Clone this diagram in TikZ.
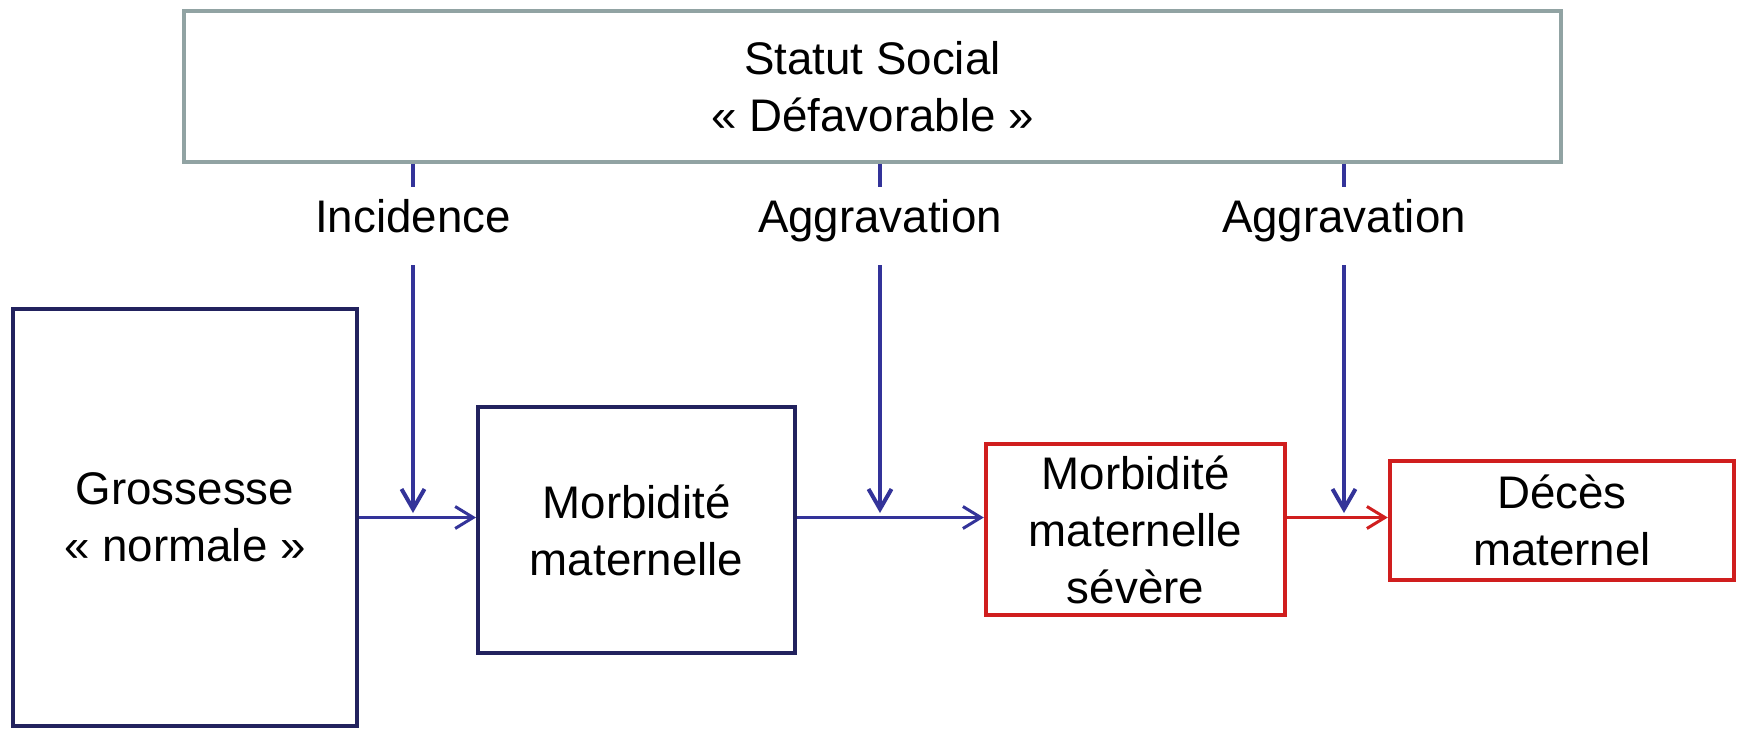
\documentclass[tikz,border=0pt]{standalone}
\usepackage{fontspec}
\setmainfont{Liberation Sans}
\usetikzlibrary{arrows.meta,positioning}
\definecolor{SocialGray}{HTML}{91A3A3}
\definecolor{StageNavy}{HTML}{22225E}
\definecolor{EffectBlue}{HTML}{333399}
\definecolor{SevereRed}{HTML}{D01E1E}

\begin{document}
\begin{tikzpicture}[x=0.02cm,y=-0.02cm,
  font=\fontsize{26}{32.5}\selectfont,
  social/.style={rectangle,draw=SocialGray,line width=0.08cm,fill=white,align=center,minimum width=27.54cm,minimum height=3.02cm},
  stage/.style={rectangle,draw=StageNavy,line width=0.08cm,fill=white,align=center,inner sep=0pt},
  severe/.style={rectangle,draw=SevereRed,line width=0.09cm,fill=white,align=center,inner sep=0pt},
  factor/.style={align=center,inner sep=0pt,text height=0.72em,text depth=0pt,minimum height=1.56cm},
  arrow/.style={-{Straight Barb[length=0.36cm,width=0.44cm]},draw=EffectBlue,line width=0.06cm},
  redarrow/.style={arrow,draw=SevereRed},
  effect/.style={draw=EffectBlue,line width=0.08cm},
  effecthead/.style={effect,-{Straight Barb[length=0.4cm,width=0.46cm]}}
]
\useasboundingbox[fill=white] (0,0) rectangle (1742,728);
\node[social] (statut) at (872.5,86.5) {Statut Social\\«~Défavorable~»};
\node[stage,minimum width=6.88cm,minimum height=8.34cm] (grossesse) at (185,517.5) {Grossesse\\«~normale~»};
\node[stage,minimum width=6.34cm,minimum height=4.92cm] (morbidite) at (636.5,530) {Morbidité\\maternelle};
\node[severe,minimum width=5.98cm,minimum height=3.42cm] (severe) at (1135.5,529.5) {Morbidité\\maternelle\\sévère};
\node[severe,minimum width=6.88cm,minimum height=2.38cm] (deces) at (1562,520.5) {Décès\\maternel};
\node[factor] (incidence) at (413,226) {Incidence};
\node[factor] (aggravmorb) at (880,226) {Aggravation};
\node[factor] (aggravdeces) at (1344,226) {Aggravation};
\coordinate (incidencetip) at (413,513);
\coordinate (aggravmorbtip) at (880,513);
\coordinate (aggravdecestip) at (1344,513);
\draw[arrow] (grossesse.east) -- (grossesse.east -| morbidite.west);
\draw[arrow] (morbidite.east |- grossesse.east) -- (severe.west |- grossesse.east);
\draw[redarrow] (severe.east |- grossesse.east) -- (deces.west |- grossesse.east);
\draw[effect] (statut.south -| incidence) -- (incidence.north);
\draw[effecthead] (incidence.south) -- (incidencetip);
\draw[effect] (statut.south -| aggravmorb) -- (aggravmorb.north);
\draw[effecthead] (aggravmorb.south) -- (aggravmorbtip);
\draw[effect] (statut.south -| aggravdeces) -- (aggravdeces.north);
\draw[effecthead] (aggravdeces.south) -- (aggravdecestip);
\end{tikzpicture}
\end{document}
